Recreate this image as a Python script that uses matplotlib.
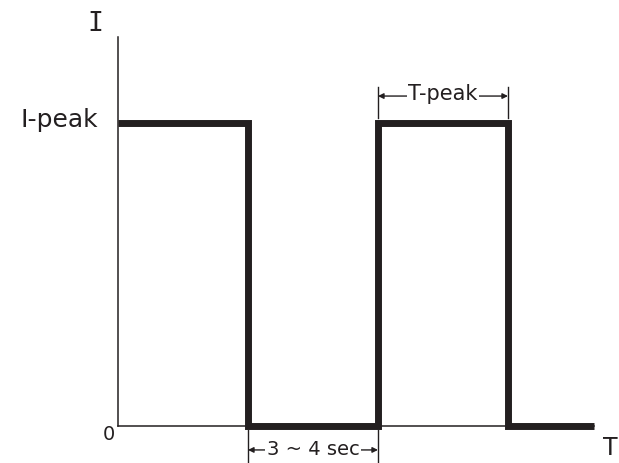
import matplotlib.pyplot as plt

# pulse waveform (time in pulse widths, current normalised to I-peak)
t = [0, 1, 1, 2, 2, 3, 3, 3.66]
i = [1, 1, 0, 0, 1, 1, 0, 0]

ink = "#231f20"
fig = plt.figure(figsize=(6.19, 4.63), dpi=100)
ax = fig.add_axes([0, 0, 1, 1])
ax.set_xlim(-0.9077, 3.854)
ax.set_ylim(-0.1221, 1.406)
ax.axis("off")

# axes
ax.plot([0, 0], [0, 1.284], color=ink, lw=1.1)
ax.plot([0, 3.66], [0, 0], color=ink, lw=1.1)

ax.plot(t, i, color=ink, lw=5, solid_joinstyle="miter", solid_capstyle="butt")

font = "DejaVu Sans"
ax.text(-0.177, 1.3036, "I", fontsize=19, color=ink, ha="center", va="baseline",
        family="DejaVu Sans Mono")
ax.text(-0.155, 0.987, "I-peak", fontsize=18, color=ink, ha="right", va="baseline", family=font)
ax.text(-0.023, -0.0462, "0", fontsize=14, color=ink, ha="right", va="baseline", family=font)
ax.text(3.73, -0.0957, "T", fontsize=17, color=ink, ha="left", va="baseline", family=font)

def dim(x0, x1, ya, yb, yarr, ytxt, label, size):
    for x in (x0, x1):
        ax.plot([x, x], [ya, yb], color=ink, lw=1)
    ax.annotate("", xy=(x0, yarr), xytext=(x1, yarr),
                arrowprops=dict(arrowstyle="<|-|>", color=ink, lw=1,
                                mutation_scale=8, shrinkA=0, shrinkB=0))
    ax.text((x0 + x1) / 2, ytxt, label, fontsize=size, color=ink, ha="center",
            va="baseline", family=font,
            bbox=dict(facecolor="white", edgecolor="none", pad=1))

dim(2, 3, 1.016, 1.119, 1.089, 1.076, "T-peak", 15)
dim(1, 2, -0.013, -0.13, -0.079, -0.0957, "3 ~ 4 sec", 14)

fig.savefig("out.png", dpi=100)
